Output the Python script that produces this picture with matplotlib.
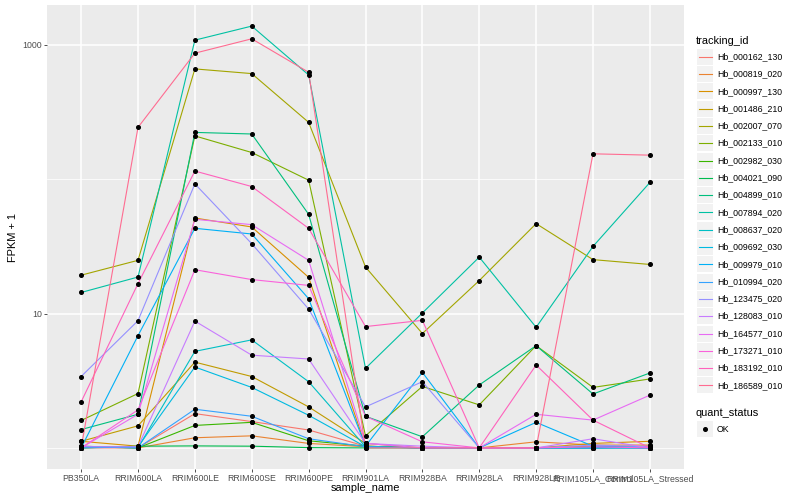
import numpy as np
import matplotlib
matplotlib.use("Agg")
import matplotlib.pyplot as plt
from matplotlib.lines import Line2D
from matplotlib.patches import Rectangle
from matplotlib.ticker import NullFormatter

plt.rcParams['font.family'] = ['Liberation Sans', 'DejaVu Sans']

# samples on the x axis
samples = ["PB350LA", "RRIM600LA", "RRIM600LE", "RRIM600SE", "RRIM600PE", "RRIM901LA",
           "RRIM928BA", "RRIM928LA", "RRIM928LE", "RRIM105LA_Control", "RRIM105LA_Stressed"]

tracking_ids = ["Hb_000162_130", "Hb_000819_020", "Hb_000997_130", "Hb_001486_210",
                "Hb_002007_070", "Hb_002133_010", "Hb_002982_030", "Hb_004021_090",
                "Hb_004899_010", "Hb_007894_020", "Hb_008637_020", "Hb_009692_030",
                "Hb_009979_010", "Hb_010994_020", "Hb_123475_020", "Hb_128083_010",
                "Hb_164577_010", "Hb_173271_010", "Hb_183192_010", "Hb_186589_010"]

# FPKM + 1 per gene, one value per sample
hb_000162_130 = [1.0, 1.0, 1.80, 1.57, 1.36, 1.03, 1.0, 1.0, 1.0, 1.03, 1.02]
hb_000819_020 = [1.03, 1.0, 1.19, 1.23, 1.08, 1.02, 1.0, 1.0, 1.11, 1.05, 1.05]
hb_000997_130 = [1.12, 1.03, 51.4, 44.1, 18.6, 1.03, 1.0, 1.0, 1.0, 1.08, 1.12]
hb_001486_210 = [1.12, 1.46, 4.35, 3.40, 2.02, 1.08, 1.0, 1.0, 1.0, 1.0, 1.02]
hb_002007_070 = [19.3, 24.9, 662, 611, 265, 22.2, 7.1, 17.6, 46.7, 25.2, 23.2]
hb_002133_010 = [1.60, 2.54, 210, 158, 98.3, 1.23, 2.87, 2.09, 5.77, 2.82, 3.26]
hb_002982_030 = [1.02, 1.0, 1.47, 1.55, 1.13, 1.03, 1.0, 1.0, 1.0, 1.02, 1.0]
hb_004021_090 = [1.0, 1.03, 1.035, 1.03, 1.005, 1.0, 1.0, 1.0, 1.0, 1.0, 1.0]
hb_004899_010 = [1.37, 1.78, 223, 217, 54.8, 1.72, 1.21, 2.94, 5.77, 2.52, 3.61]
hb_007894_020 = [14.35, 18.7, 1084, 1379, 597, 3.91, 10.1, 26.3, 7.9, 31.6, 94.5]
hb_008637_020 = [1.03, 1.0, 5.23, 6.37, 3.11, 1.02, 1.0, 1.0, 1.0, 1.0, 1.03]
hb_009692_030 = [1.0, 1.02, 4.0, 2.82, 1.75, 1.02, 1.0, 1.0, 1.0, 1.0, 1.0]
hb_009979_010 = [1.0, 6.85, 43.1, 39.1, 12.9, 1.03, 3.65, 1.0, 1.55, 1.03, 1.0]
hb_010994_020 = [1.02, 1.0, 1.94, 1.72, 1.17, 1.02, 1.0, 1.0, 1.0, 1.0, 1.0]
hb_123475_020 = [3.40, 8.85, 92.3, 33.1, 10.8, 2.02, 3.11, 1.0, 1.0, 1.05, 1.02]
hb_128083_010 = [1.02, 1.02, 8.79, 4.90, 4.59, 1.08, 1.03, 1.0, 1.0, 1.17, 1.0]
hb_164577_010 = [1.0, 1.78, 50.3, 45.9, 24.9, 1.08, 1.0, 1.0, 1.78, 1.61, 2.47]
hb_173271_010 = [1.0, 1.92, 21.2, 17.9, 16.2, 1.72, 1.11, 1.0, 1.0, 1.02, 1.0]
hb_183192_010 = [2.20, 16.7, 115, 88.2, 43.1, 8.0, 8.9, 1.0, 4.14, 1.61, 1.0]
hb_186589_010 = [1.0, 243, 867, 1109, 625, 1.0, 1.0, 1.0, 1.0, 154.5, 151]

series = [hb_000162_130, hb_000819_020, hb_000997_130, hb_001486_210, hb_002007_070,
          hb_002133_010, hb_002982_030, hb_004021_090, hb_004899_010, hb_007894_020,
          hb_008637_020, hb_009692_030, hb_009979_010, hb_010994_020, hb_123475_020,
          hb_128083_010, hb_164577_010, hb_173271_010, hb_183192_010, hb_186589_010]

# ggplot default hue palette for 20 levels
colors = ["#F8766D", "#EA8331", "#D89000", "#C09B00", "#A3A500", "#7CAE00", "#39B600",
          "#00BB4E", "#00BF7D", "#00C1A3", "#00BFC4", "#00BAE0", "#00B0F6", "#35A2FF",
          "#9590FF", "#C77CFF", "#E76BF3", "#FA62DB", "#FF62BC", "#FF6C91"]

W, H = 800, 500
fig = plt.figure(figsize=(W / 100, H / 100), dpi=100)

def fx(px):
    return px / W

def fy(py):
    return 1 - py / H

# panel
left, right, top, bottom = 47, 684, 5, 469
ax = fig.add_axes([fx(left), fy(bottom), fx(right - left), (bottom - top) / H])
ax.set_facecolor("#EBEBEB")

x = np.arange(len(samples))
for vals, col in zip(series, colors):
    ax.plot(x, vals, color=col, lw=0.8, zorder=2)
for vals in series:
    ax.plot(x, vals, ls="none", marker="o", ms=2.6, color="black", zorder=3)

# log scale with ggplot-like 5% expansion
ax.set_yscale("log")
allv = np.concatenate([np.array(s) for s in series])
lo, hi = np.log10(allv.min()), np.log10(allv.max())
pad = 0.05 * (hi - lo)
ax.set_ylim(10 ** (lo - pad), 10 ** (hi + pad))
ax.set_xlim(-0.6, len(samples) - 0.4)

ax.set_yticks([10, 1000])
ax.set_yticklabels(["10", "1000"])
ax.set_yticks([1, 100], minor=True)
ax.yaxis.set_minor_formatter(NullFormatter())
ax.set_xticks(x)
ax.set_xticklabels(samples)

ax.grid(which="major", color="white", lw=1.1)
ax.grid(which="minor", axis="y", color="white", lw=0.55)
ax.set_axisbelow(True)
for sp in ax.spines.values():
    sp.set_visible(False)
ax.tick_params(axis="both", which="major", length=2, width=0.6, color="#333333",
               labelcolor="#4D4D4D", labelsize=6.3, pad=1.5)
ax.tick_params(axis="y", which="minor", length=0)

# axis titles
fig.text(fx(365), fy(488), "sample_name", ha="center", va="center", fontsize=7.9)
fig.text(fx(13), fy(237), "FPKM + 1", ha="center", va="center", rotation=90, fontsize=7.9)

# legend: tracking_id
fig.text(fx(696), fy(40.7), "tracking_id", ha="left", va="center", fontsize=7.9)
for i, (tid, col) in enumerate(zip(tracking_ids, colors)):
    cy = 56.7 + 17.3 * i
    fig.add_artist(Rectangle((fx(697), fy(cy + 8)), 16 / W, 16 / H,
                             transform=fig.transFigure, facecolor="#F2F2F2", edgecolor="none"))
    fig.add_artist(Line2D([fx(698.5), fx(711.5)], [fy(cy), fy(cy)],
                          transform=fig.transFigure, color=col, lw=0.8))
    fig.text(fx(717), fy(cy), tid, ha="left", va="center", fontsize=6.3)

# legend: quant_status
fig.text(fx(696), fy(412.7), "quant_status", ha="left", va="center", fontsize=7.9)
fig.add_artist(Rectangle((fx(697), fy(437)), 16 / W, 16 / H,
                         transform=fig.transFigure, facecolor="#F2F2F2", edgecolor="none"))
fig.add_artist(Line2D([fx(705)], [fy(429)], transform=fig.transFigure, ls="none",
                      marker="o", ms=2.6, color="black"))
fig.text(fx(717), fy(429), "OK", ha="left", va="center", fontsize=6.3)

fig.savefig("out.png", dpi=100, facecolor="white")
